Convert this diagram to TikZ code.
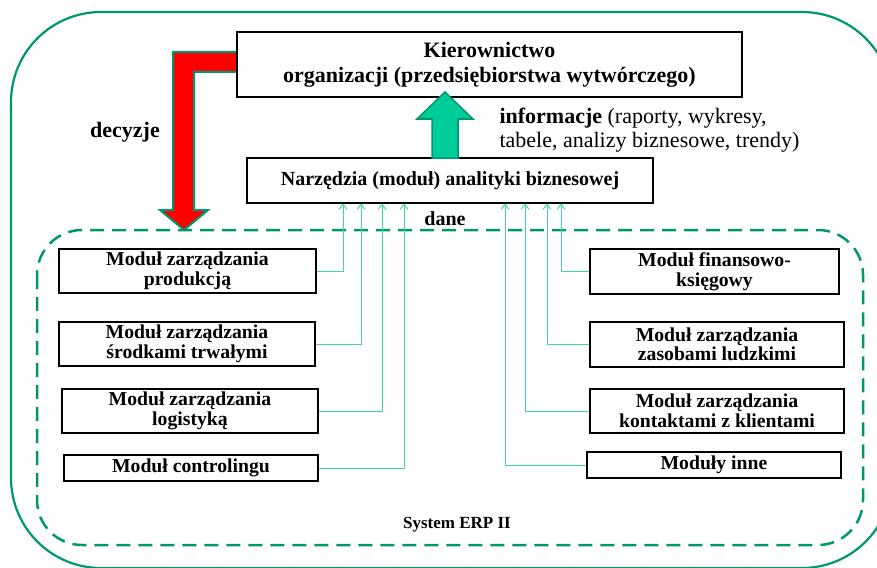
\documentclass[tikz,border=0pt]{standalone}
\usepackage{fontspec}
\setmainfont{Liberation Serif}
\usetikzlibrary{arrows.meta}
\definecolor{framegreen}{RGB}{0,150,110}
\definecolor{feedgreen}{RGB}{64,216,170}
\definecolor{upgreen}{RGB}{0,204,153}
\begin{document}
\begin{tikzpicture}[x=1pt,y=-1pt,
  box/.style={draw=black,line width=1.5pt,fill=white,inner sep=0pt,align=center,
    font=\bfseries\fontsize{19.7}{19.5}\selectfont},
  feed/.style={draw=feedgreen,line width=1pt,-{Straight Barb[length=5pt,width=8pt]}},
  bigarrow/.style={line width=2pt,draw=framegreen,line join=miter}
 ]
\useasboundingbox (0,0) rectangle (877,567);
\clip (0,0) rectangle (877,567);
% outer frame
\draw[framegreen,line width=2.2pt,rounded corners=90pt] (11,12) rectangle (892,568);
% inner dashed frame
\draw[framegreen,line width=2.5pt,dash pattern=on 14pt off 8pt,rounded corners=45pt] (37,230) rectangle (863,545);
\node[font=\bfseries\fontsize{17}{17}\selectfont] (erp) at (457,525) {System ERP II};

% red arrow (decisions)
\draw[bigarrow,fill=red] (240,52) -- (173,52) -- (173,210) -- (160,210) -- (184,230) -- (208,210) -- (194,210) -- (194,72) -- (240,72) -- cycle;
\node[font=\bfseries\fontsize{22}{22}\selectfont] (dec) at (125,132) {decyzje};

% top box
\node[box,minimum width=505pt,minimum height=65pt,font=\bfseries\fontsize{22}{25}\selectfont] (kier) at (489.5,64.5)
  {Kierownictwo\\organizacji (przedsiębiorstwa wytwórczego)};

% analytics box
\node[box,minimum width=406pt,minimum height=45pt,font=\bfseries\fontsize{20}{20}\selectfont] (narz) at (450,180.5)
  {Narzędzia (moduł) analityki biznesowej};

% green arrow (information)
\draw[line width=1.5pt,draw=framegreen,fill=upgreen] (432,158) -- (432,119) -- (417,119) -- (445,92) -- (473,119) -- (458,119) -- (458,158) -- cycle;
\node[anchor=west,align=left,font=\fontsize{22}{24}\selectfont] (info) at (496,130)
  {\textbf{informacje} (raporty, wykresy,\\tabele, analizy biznesowe, trendy)};
\node[font=\bfseries\fontsize{20}{20}\selectfont] (dane) at (445,219) {dane};

% modules left
\node[box,minimum width=257pt,minimum height=44pt] (prod) at (187.5,271) {Moduł zarządzania\\produkcją};
\node[box,minimum width=256pt,minimum height=44pt] (srod) at (187,344) {Moduł zarządzania\\środkami trwałymi};
\node[box,minimum width=256pt,minimum height=44pt] (logi) at (190,411) {Moduł zarządzania\\logistyką};
\node[box,minimum width=254pt,minimum height=26pt] (cont) at (191,468) {Moduł controlingu};
% modules right
\node[box,minimum width=249pt,minimum height=45pt] (fin) at (714.5,271.5) {Moduł finansowo-\\księgowy};
\node[box,minimum width=254pt,minimum height=45pt] (zas) at (717,344.5) {Moduł zarządzania\\zasobami ludzkimi};
\node[box,minimum width=254pt,minimum height=44pt] (kont) at (717,411) {Moduł zarządzania\\kontaktami z klientami};
\node[box,minimum width=254pt,minimum height=26pt] (inne) at (714,465) {Moduły inne};

% arrow targets on analytics box
\coordinate (t1) at (343,203.5);
\coordinate (t2) at (361,203.5);
\coordinate (t3) at (382,203.5);
\coordinate (t4) at (404,203.5);
\coordinate (t5) at (505,203.5);
\coordinate (t6) at (525,203.5);
\coordinate (t7) at (547,203.5);
\coordinate (t8) at (561,203.5);

\draw[feed] (prod.east) -| (t1);
\draw[feed] (srod.east) -| (t2);
\draw[feed] (logi.east) -| (t3);
\draw[feed] (cont.east) -| (t4);
\draw[feed] (inne.west) -| (t5);
\draw[feed] (kont.west) -| (t6);
\draw[feed] (zas.west) -| (t7);
\draw[feed] (fin.west) -| (t8);
\end{tikzpicture}
\end{document}
